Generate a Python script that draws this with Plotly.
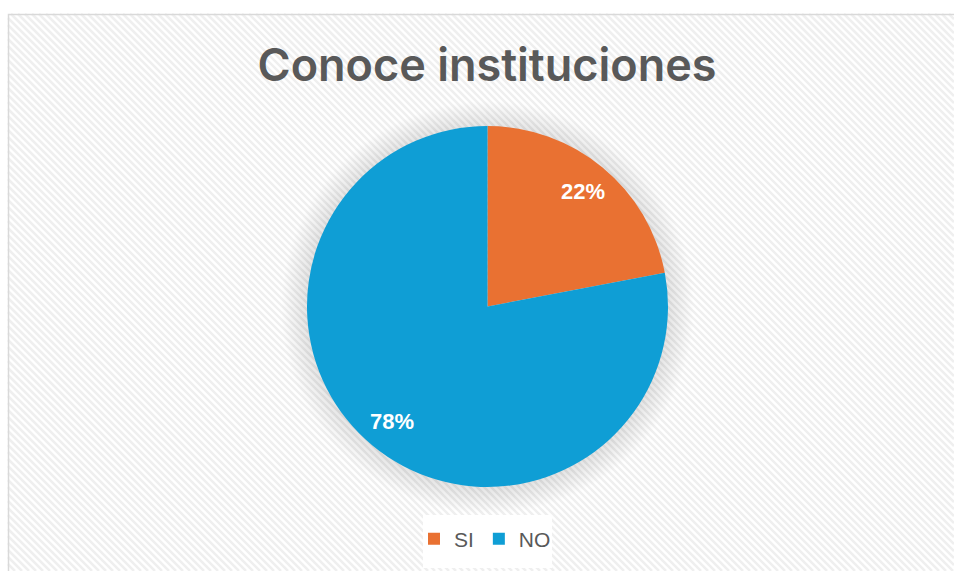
import math
import plotly.graph_objects as go

# ---- data ----
labels = ["SI", "NO"]
values = [22, 78]
colors = ["#E97132", "#0F9ED5"]
title_text = "Conoce instituciones"

W, H = 954, 571
CX, CY, R = 487.5, 306.5, 180.5  # pie centre / radius in pixels


def px(x):
    return x / W


def py(y):
    return 1 - y / H


fig = go.Figure()
fig.add_trace(go.Pie(
    labels=labels, values=values, sort=False, direction="clockwise", rotation=0,
    marker=dict(colors=colors, line=dict(width=0)),
    textinfo="none", hoverinfo="label+percent",
    domain=dict(x=[px(CX - R), px(CX + R)], y=[py(CY + R), py(CY - R)]),
    showlegend=True,
))

shapes = []
# chart area background stripes (decoration)
X0, Y0 = 8, 14
segs = []
step = 7
c = X0 - (H - Y0)
while c < W:
    ys, ye = Y0, H
    xs, xe = c, c + (H - Y0)
    if xs < X0:
        ys = Y0 + (X0 - xs)
        xs = X0
    if xe > W:
        ye = ye - (xe - W)
        xe = W
    if ye > ys:
        segs.append(f"M{px(xs):.5f},{py(ys):.5f}L{px(xe):.5f},{py(ye):.5f}")
    c += step
shapes.append(dict(type="path", xref="paper", yref="paper", path="".join(segs),
                   line=dict(color="#EFEFEF", width=2.5), layer="below"))
# chart border
shapes.append(dict(type="rect", xref="paper", yref="paper",
                   x0=px(X0 + 0.5), y0=py(H + 5), x1=px(W + 5), y1=py(Y0 + 0.5),
                   line=dict(color="#D9D9D9", width=1.5), fillcolor="rgba(0,0,0,0)", layer="below"))
# soft shadow around pie
for i in range(26, 0, -1):
    r = R + i
    shapes.append(dict(type="circle", xref="paper", yref="paper",
                       x0=px(CX - r), x1=px(CX + r), y0=py(CY + r + 1), y1=py(CY - r + 1),
                       line=dict(width=0), fillcolor="rgba(0,0,0,0.005)", layer="below"))
# legend box
shapes.append(dict(type="rect", xref="paper", yref="paper",
                   x0=px(423), x1=px(552), y0=py(568), y1=py(515),
                   line=dict(width=0), fillcolor="white", layer="below"))

# data labels placed along each slice's mid-angle
annotations = []
total = sum(values)
acc = 0
for lab, v in zip(labels, values):
    mid = (acc + v / 2) / total * 2 * math.pi
    acc += v
    rr = R * 0.83
    x = CX + rr * math.sin(mid)
    y = CY - rr * math.cos(mid)
    annotations.append(dict(x=px(x), y=py(y), xref="paper", yref="paper",
                            xanchor="center", yanchor="middle",
                            text=f"<b>{round(v / total * 100)}%</b>", showarrow=False,
                            font=dict(family="Liberation Sans, Arial", size=22, color="white")))

fig.update_layout(
    width=W, height=H,
    margin=dict(l=0, r=0, t=0, b=0),
    paper_bgcolor="white",
    title=dict(text=title_text, x=px(487), xanchor="center", y=py(65), yanchor="middle",
               font=dict(family="Inter, Liberation Sans", size=45, color="#595959", weight=600)),
    legend=dict(orientation="h", x=px(485), xanchor="center", y=py(539), yanchor="middle",
                bgcolor="rgba(0,0,0,0)", font=dict(family="Liberation Sans, Arial", size=21, color="#595959"),
                itemwidth=30, traceorder="normal"),
    shapes=shapes,
    annotations=annotations,
)

fig.write_html("out.html", config={"displayModeBar": False},
               post_script="document.body.style.margin='0';document.body.style.overflow='hidden';")
